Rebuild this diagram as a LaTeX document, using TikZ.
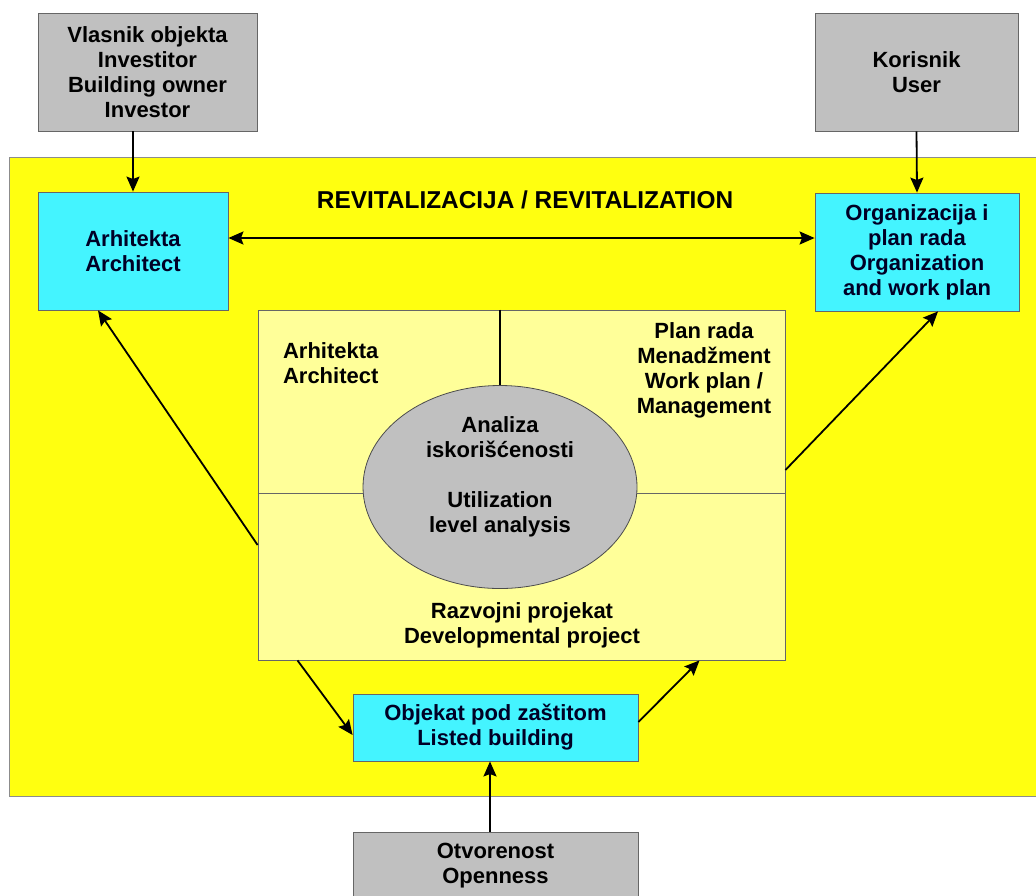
\documentclass[tikz,border=0pt]{standalone}
\usepackage{fontspec}
\setmainfont{Liberation Sans}
\usetikzlibrary{arrows.meta,shapes.geometric}
\definecolor{revyellow}{HTML}{FFFF10}
\definecolor{inyellow}{HTML}{FFFF99}
\definecolor{boxcyan}{HTML}{44F4FF}
\definecolor{boxgray}{HTML}{C0C0C0}
\begin{document}
\begin{tikzpicture}[x=0.5pt,y=-0.5pt,font=\bfseries\fontsize{11}{12.5}\selectfont,>={Stealth[length=7.5pt,width=6.5pt,inset=1.2pt]}]
			\tikzstyle{g}=[rectangle,draw=black!60,fill=boxgray,align=center,inner sep=0pt]
			\tikzstyle{c}=[rectangle,draw=black!60,fill=boxcyan,align=center,inner sep=0pt,text=black!85!blue]
			\tikzstyle{a}=[line width=0.9pt,->]
				\useasboundingbox (0,0) rectangle (1036,895);
				\fill[white] (0,0) rectangle (1036,895);
				% background frame
				\draw [draw=black!45,fill=revyellow] (9,157) rectangle (1060,796);
				\node [g,minimum width=109.5pt,minimum height=59pt] (vl) at (147.5,72) {Vlasnik objekta\\Investitor\\Building owner\\Investor};
				\node [g,minimum width=101.5pt,minimum height=59pt] (kor) at (916.5,72) {Korisnik\\User};
				\node [c,minimum width=95pt,minimum height=59pt] (arh) at (133,251) {Arhitekta\\Architect};
				\node [c,minimum width=102pt,minimum height=59pt] (org) at (917,252) {Organizacija i\\plan rada\\Organization\\and work plan};
				\node [font=\bfseries\fontsize{12.2}{14}\selectfont] (rev) at (525,200) {REVITALIZACIJA / REVITALIZATION};
				\node [rectangle,draw=black!60,fill=inyellow,minimum width=263.5pt,minimum height=175pt,inner sep=0pt] (in) at (521.5,485) {};
				\draw [draw=black!60] ([yshift=-4pt]in.west) -- ([yshift=-4pt]in.east);
				\node [ellipse,draw=black!70,fill=boxgray,minimum width=137pt,minimum height=101.5pt,inner sep=0pt] (ell) at (500,487) {};
				\draw [line width=0.9pt] (in.north -| ell.north) -- (ell.north);
				\node [align=center] (ana) at (500,477) {Analiza\\iskorišćenosti\\[12.5pt]Utilization\\level analysis};
				\node [align=left,anchor=west] (ar2) at (276,363) {Arhitekta\\Architect};
				\node [align=center] (plan) at (704,370) {Plan rada\\Menadžment\\Work plan /\\Management};
				\node [align=center] (raz) at (522,625) {Razvojni projekat\\Developmental project};
				\node [c,minimum width=142.5pt,minimum height=33.5pt] (obj) at (495.5,727.5) {Objekat pod zaštitom\\Listed building};
				\node [g,minimum width=142.5pt,minimum height=34pt] (otv) at (495.5,866) {Otvorenost\\Openness};
				\draw [a] (arh.north |- vl.south) to (arh.north);
				\draw [a] (kor.south) to (org.north);
				\draw [a,<->] ([yshift=6.5pt]arh.east) to ([yshift=6.5pt]arh.east -| org.west);
				\draw [a] ([yshift=-30pt]in.west) to ([xshift=-17.5pt]arh.south);
				\draw [a] ([yshift=7.5pt]in.east) to ([xshift=10.5pt]org.south);
				\draw [a] ([xshift=-112pt]in.south) to ([yshift=-3.75pt]obj.west);
				\draw [a] ([yshift=2.75pt]obj.east) to ([xshift=89pt]in.south);
				\draw [a] ([xshift=-2.75pt]otv.north) to ([xshift=-2.75pt]obj.south);
	\end{tikzpicture}
\end{document}
